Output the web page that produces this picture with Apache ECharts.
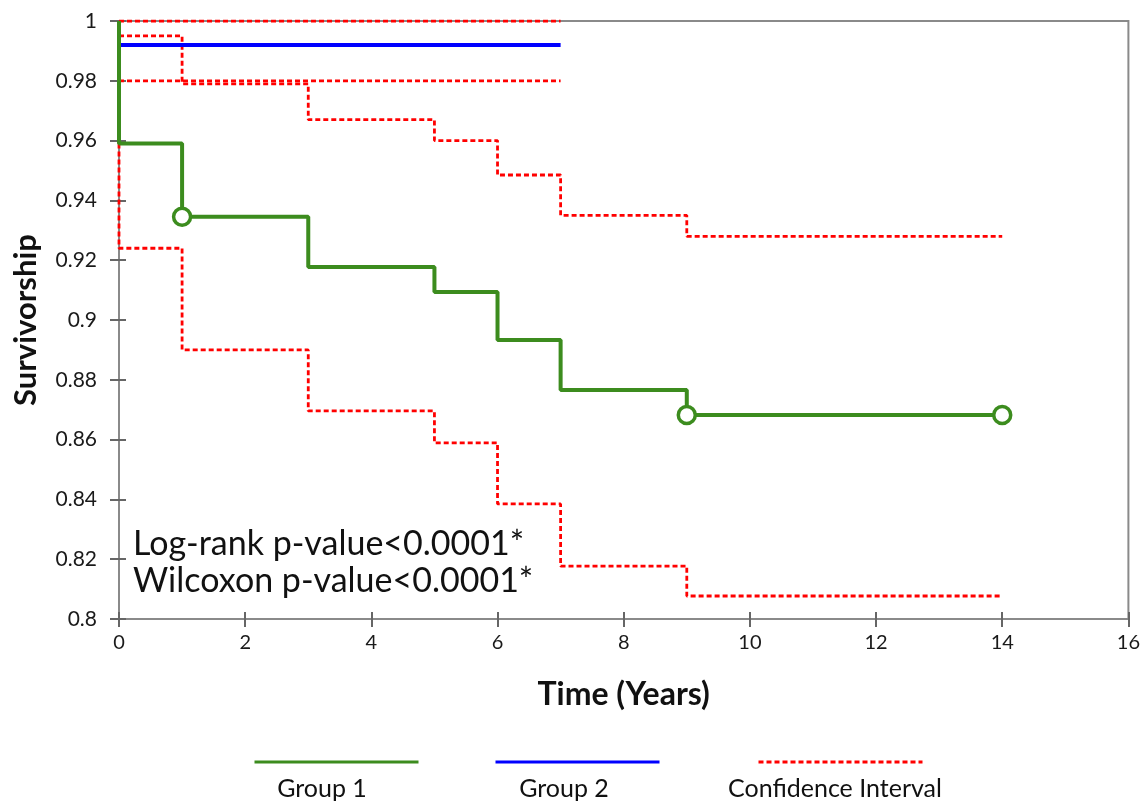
<!DOCTYPE html>
<html>
<head>
<meta charset="utf-8">
<script src="https://cdn.jsdelivr.net/npm/echarts@6/dist/echarts.min.js"></script>
<style>
html,body{margin:0;padding:0;background:#fff;}
#chart{width:1143px;height:803px;}
</style>
</head>
<body>
<div id="chart"></div>
<script>
// ---- data ----
const xTicks = [0, 2, 4, 6, 8, 10, 12, 14, 16];
const yTickLabels = ['0.8','0.82','0.84','0.86','0.88','0.9','0.92','0.94','0.96','0.98','1'];

const g1Times = [0, 0, 1, 3, 5, 6, 7, 9, 14];
const g1Surv  = [1, 0.959, 0.9345, 0.9177, 0.9094, 0.8933, 0.8766, 0.8682, 0.8682];
const g1CensorTimes = [1, 9, 14];
const g1CensorSurv  = [0.9345, 0.8682, 0.8682];

const g1UpperTimes = [0, 1, 3, 5, 6, 7, 9, 14];
const g1Upper      = [0.995, 0.979, 0.967, 0.960, 0.9485, 0.935, 0.928, 0.928];
const g1LowerTimes = [0, 0, 1, 3, 5, 6, 7, 9, 14];
const g1Lower      = [0.959, 0.924, 0.890, 0.8696, 0.8589, 0.8385, 0.8177, 0.8077, 0.8077];

const g2Times = [0, 7];
const g2Surv  = [0.992, 0.992];
const g2Upper = [1, 1];
const g2Lower = [0.98, 0.98];

const seriesNames = ['Group 1', 'Group 2', 'Confidence Interval'];
const annotationLines = ['Log-rank p-value<0.0001*', 'Wilcoxon p-value<0.0001*'];
const xTitle = 'Time (Years)';
const yTitle = 'Survivorship';

// ---- build ----
const zip = (xs, ys) => xs.map((x, i) => [x, ys[i]]);
const FONT = 'Lato';
const GREEN = '#3c8c1e', BLUE = '#0000ff', RED = '#ff0000', AXIS = '#8a8a8a';

const chart = echarts.init(document.getElementById('chart'), null, {renderer: 'canvas'});

const ciStyle = {color: RED, width: 2.8, type: [5, 3]};
function ciSeries(data) {
  return {
    name: seriesNames[2], type: 'line', step: 'end', data: data,
    symbol: 'none', lineStyle: ciStyle, itemStyle: {color: RED}, z: 2
  };
}

const legendCommon = {
  itemWidth: 164, itemHeight: 14, top: 755, selectedMode: false,
  formatter: () => '', textStyle: {fontSize: 1}, padding: 0,
  itemStyle: {opacity: 0}, lineStyle: {width: 3}
};

const option = {
  backgroundColor: '#fff',
  animation: false,
  grid: {left: 119, right: 12, top: 21, bottom: 184, show: true,
         borderColor: AXIS, borderWidth: 2, backgroundColor: 'transparent'},
  legend: [
    Object.assign({}, legendCommon, {left: 253, data: [seriesNames[0]]}),
    Object.assign({}, legendCommon, {left: 494, data: [seriesNames[1]]}),
    Object.assign({}, legendCommon, {left: 757, data: [seriesNames[2]]})
  ],
  xAxis: [{
    type: 'value', min: xTicks[0], max: xTicks[xTicks.length - 1], interval: 2,
    name: xTitle, nameLocation: 'middle', nameGap: 60,
    nameTextStyle: {fontFamily: FONT, fontSize: 32, fontWeight: 'bold', color: '#111'},
    axisLine: {show: true, lineStyle: {color: AXIS, width: 2}},
    axisTick: {show: true, length: 8, lineStyle: {color: '#666', width: 2}},
    axisLabel: {fontFamily: FONT, fontSize: 20, color: '#1a1a1a', margin: 14},
    splitLine: {show: false}
  }, {
    type: 'value', position: 'bottom', min: xTicks[0], max: xTicks[xTicks.length - 1], interval: 2,
    axisLine: {show: false},
    axisTick: {show: true, inside: true, length: 7, lineStyle: {color: '#666', width: 2}},
    axisLabel: {show: false}, splitLine: {show: false}
  }],
  yAxis: [{
    type: 'value', min: 0.8, max: 1, interval: 0.02,
    name: yTitle, nameLocation: 'middle', nameGap: 78, nameRotate: 90,
    nameTextStyle: {fontFamily: FONT, fontSize: 31, fontWeight: 'bold', color: '#111'},
    axisLine: {show: true, lineStyle: {color: AXIS, width: 2}},
    axisTick: {show: true, length: 9, lineStyle: {color: '#666', width: 2}},
    axisLabel: {fontFamily: FONT, fontSize: 21, color: '#1a1a1a', margin: 22,
      formatter: (v) => {
        const idx = Math.round((v - 0.8) / 0.02);
        return yTickLabels[idx] !== undefined ? yTickLabels[idx] : '';
      }},
    splitLine: {show: false}
  }, {
    type: 'value', position: 'left', min: 0.8, max: 1, interval: 0.02,
    axisLine: {show: false},
    axisTick: {show: true, inside: true, length: 7, lineStyle: {color: '#666', width: 2}},
    axisLabel: {show: false}, splitLine: {show: false}
  }],
  graphic: [
    {type: 'text', left: 133, top: 526, z: 10,
     style: {text: annotationLines.join('\n'), font: '34px ' + FONT, fill: '#111', lineHeight: 37}},
    {type: 'text', x: 322, y: 789, z: 10,
     style: {text: seriesNames[0], font: '25px ' + FONT, fill: '#111', align: 'center', verticalAlign: 'middle'}},
    {type: 'text', x: 564, y: 789, z: 10,
     style: {text: seriesNames[1], font: '25px ' + FONT, fill: '#111', align: 'center', verticalAlign: 'middle'}},
    {type: 'text', x: 835, y: 789, z: 10,
     style: {text: seriesNames[2], font: '25px ' + FONT, fill: '#111', align: 'center', verticalAlign: 'middle'}}
  ],
  series: [
    ciSeries(zip(g2Times, g2Upper)),
    ciSeries(zip(g2Times, g2Lower)),
    ciSeries(zip(g1UpperTimes, g1Upper)),
    ciSeries(zip(g1LowerTimes, g1Lower)),
    {
      name: seriesNames[1], type: 'line', step: 'end', data: zip(g2Times, g2Surv),
      symbol: 'none', lineStyle: {color: BLUE, width: 4}, itemStyle: {color: BLUE}, z: 3
    },
    {
      name: seriesNames[0], type: 'line', step: 'end', data: zip(g1Times, g1Surv),
      symbol: 'none', lineStyle: {color: GREEN, width: 4}, itemStyle: {color: GREEN}, z: 4
    },
    {
      name: 'Censored', type: 'scatter', data: zip(g1CensorTimes, g1CensorSurv),
      symbol: 'circle', symbolSize: 17,
      itemStyle: {color: '#fff', borderColor: GREEN, borderWidth: 3.5, opacity: 1}, z: 5
    }
  ]
};
chart.setOption(option);
</script>
</body>
</html>
